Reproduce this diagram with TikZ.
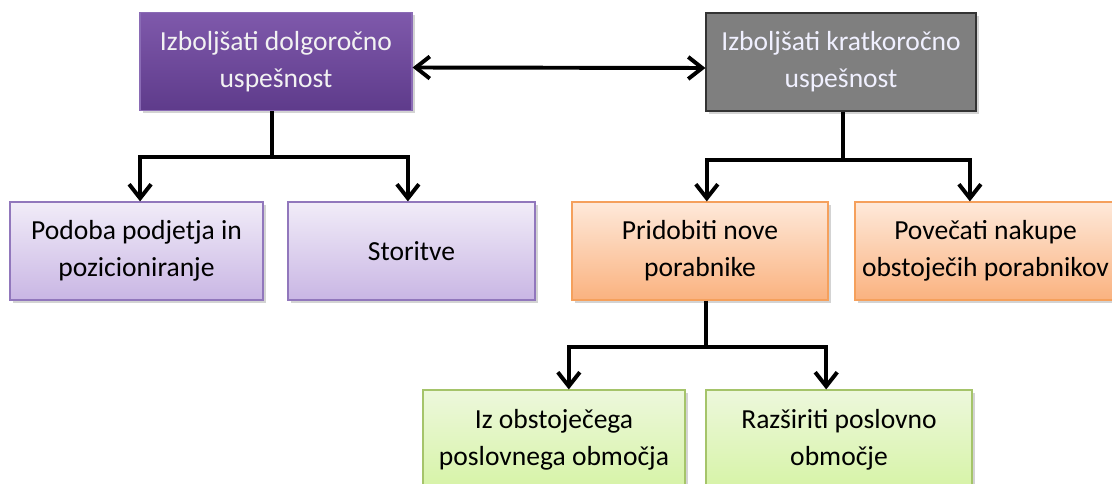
\documentclass[tikz,border=0pt]{standalone}
\usepackage{xcolor}
\usepackage{fontspec}
\setmainfont{Carlito}
\usepackage{tikz}
\usetikzlibrary{arrows.meta,positioning,shadows}

\definecolor{purpleTop}{HTML}{7F59AB}
\definecolor{purpleBot}{HTML}{5E3B8B}
\definecolor{purpleLine}{HTML}{8A6BB5}
\definecolor{greyFill}{HTML}{7F7F7F}
\definecolor{lavTop}{HTML}{F1ECF8}
\definecolor{lavBot}{HTML}{C9B6E4}
\definecolor{lavLine}{HTML}{9177BC}
\definecolor{orTop}{HTML}{FEE9DA}
\definecolor{orBot}{HTML}{FAB27F}
\definecolor{orLine}{HTML}{F5A05C}
\definecolor{grTop}{HTML}{EDF8DC}
\definecolor{grBot}{HTML}{D6F3A6}
\definecolor{grLine}{HTML}{A5C46A}

\begin{document}
\begin{tikzpicture}[
  x=0.025cm, y=-0.025cm,
  box/.style={draw, line width=0.8pt, align=center, minimum height=2.45cm,
    font=\fontsize{19.6}{26.4}\selectfont,
    drop shadow={opacity=0.35, shadow xshift=2pt, shadow yshift=-2pt}},
  goal/.style={box, top color=purpleTop, bottom color=purpleBot, draw=purpleLine, text=white!95!black},
  shortgoal/.style={box, fill=greyFill, draw=black!80, text=white!90!blue!60!white},
  lav/.style={box, top color=lavTop, bottom color=lavBot, draw=lavLine},
  orng/.style={box, top color=orTop, bottom color=orBot, draw=orLine},
  grn/.style={box, top color=grTop, bottom color=grBot, draw=grLine, minimum height=2.5cm},
  link/.style={line width=2.8pt},
  arr/.style={link, -{Straight Barb[length=3.5mm, width=5.5mm]}},
  dbl/.style={link, {Straight Barb[length=3.5mm, width=5.5mm]}-{Straight Barb[length=3.5mm, width=5.5mm]}}
]
  \useasboundingbox (0,0) rectangle (1112,484);

  % top row
  \node[goal, minimum width=6.8cm] (dolg) at (276,61.5) {Izboljšati dolgoročno\\uspešnost};
  \node[shortgoal, minimum width=6.75cm] (krat) at (841,62) {Izboljšati kratkoročno\\uspešnost};

  % second row
  \node[lav, minimum width=6.325cm] (podoba) at (136.5,251) {Podoba podjetja in\\pozicioniranje};
  \node[lav, minimum width=6.175cm] (stor) at (411.5,251) {Storitve};
  \node[orng, minimum width=6.4cm] (nove) at (700,251) {Pridobiti nove\\porabnike};
  \node[orng, minimum width=6.525cm] (nakupe) at (985.5,251) {Povečati nakupe\\obstoječih porabnikov};

  % third row
  \node[grn, minimum width=6.55cm] (obst) at (554,440) {Iz obstoječega\\poslovnega območja};
  \node[grn, minimum width=6.65cm] (razs) at (839,440) {Razširiti poslovno\\območje};

  \coordinate (j1) at (272,157);
  \coordinate (j2) at (843,160);
  \coordinate (j3) at (706,347);

  \draw[dbl] ([yshift=-0.15cm]dolg.east) -- ([yshift=-0.15cm]krat.west);

  \draw[link] (dolg.south -| j1) -- (j1);
  \draw[arr] (j1) -| ([xshift=0.09cm]podoba.north);
  \draw[arr] (j1) -| ([xshift=-0.09cm]stor.north);

  \draw[link] (krat.south -| j2) -- (j2);
  \draw[arr] (j2) -| ([xshift=0.17cm]nove.north);
  \draw[arr] (j2) -| ([xshift=-0.39cm]nakupe.north);

  \draw[link] (nove.south -| j3) -- (j3);
  \draw[arr] (j3) -| ([xshift=0.37cm]obst.north);
  \draw[arr] (j3) -| ([xshift=-0.32cm]razs.north);
\end{tikzpicture}
\end{document}
